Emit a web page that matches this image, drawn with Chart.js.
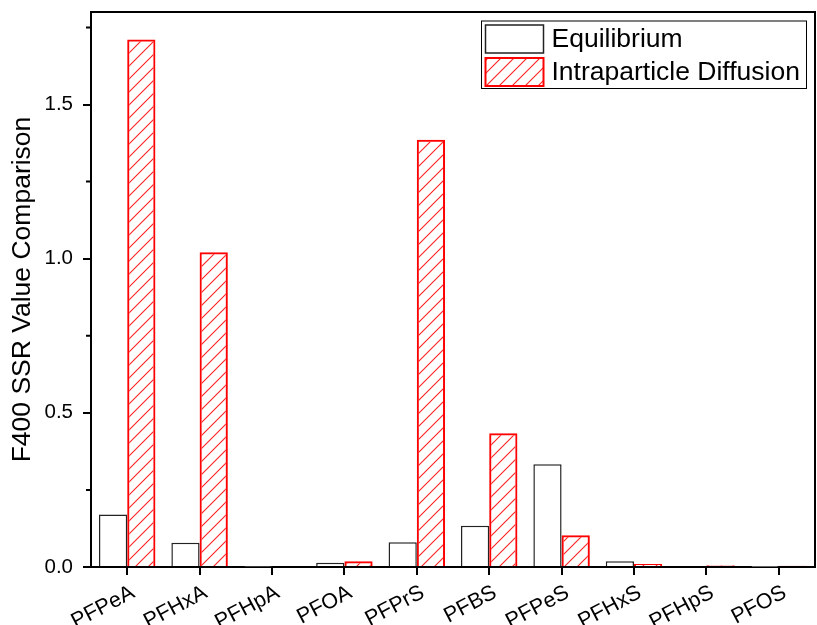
<!DOCTYPE html>
<html>
<head>
<meta charset="utf-8">
<script src="https://cdn.jsdelivr.net/npm/chart.js@4/dist/chart.umd.min.js"></script>
<style>
  html, body { margin: 0; padding: 0; background: #ffffff; }
  #wrap { width: 817px; height: 625px; }
</style>
</head>
<body>
<div id="wrap"><canvas id="c" width="817" height="625"></canvas></div>
<script>
// SSR values per compound for the two kinetic models
const categories = ['PFPeA', 'PFHxA', 'PFHpA', 'PFOA', 'PFPrS', 'PFBS', 'PFPeS', 'PFHxS', 'PFHpS', 'PFOS'];
const equilibrium = [0.170, 0.079, 0.001, 0.014, 0.080, 0.134, 0.333, 0.019, 0.003, 0.0005];
const intraparticle = [1.711, 1.021, 0.003, 0.019, 1.386, 0.434, 0.103, 0.010, 0.006, 0.004];
const seriesNames = ['Equilibrium', 'Intraparticle Diffusion'];
const yMajorTicks = [0, 0.5, 1.0, 1.5];
const yMinorTicks = [0.25, 0.75, 1.25, 1.75];
const yTitle = 'F400 SSR Value Comparison';

const FONT = "'Liberation Sans', Arial, Helvetica, sans-serif";
Chart.defaults.font.family = FONT;
Chart.defaults.color = '#000';

const canvas = document.getElementById('c');
const ctx = canvas.getContext('2d');

// red diagonal hatch fill
function makeHatch(color) {
  const s = 13;
  const t = document.createElement('canvas');
  t.width = s; t.height = s;
  const g = t.getContext('2d');
  g.strokeStyle = color;
  g.lineWidth = 1.1;
  g.beginPath();
  g.moveTo(0, s); g.lineTo(s, 0);
  g.moveTo(-s / 2, s / 2); g.lineTo(s / 2, -s / 2);
  g.moveTo(s / 2, s * 1.5); g.lineTo(s * 1.5, s / 2);
  g.stroke();
  return ctx.createPattern(t, 'repeat');
}
const hatchRed = makeHatch('#ff2020');

// closes the frame and adds minor ticks on the value axis
const framePlugin = {
  id: 'frame',
  afterDraw(chart) {
    const { ctx, chartArea: a, scales } = chart;
    ctx.save();
    ctx.strokeStyle = '#000';
    ctx.lineWidth = 2;
    ctx.beginPath();
    ctx.moveTo(a.left - 1, a.top);
    ctx.lineTo(a.right, a.top);
    ctx.lineTo(a.right, a.bottom + 1);
    ctx.stroke();
    ctx.beginPath();
    yMinorTicks.forEach(v => {
      const y = scales.y.getPixelForValue(v);
      ctx.moveTo(a.left - 5, y);
      ctx.lineTo(a.left, y);
    });
    ctx.stroke();
    ctx.restore();
  }
};

// boxed legend inside the top-right corner of the plot
const legendPlugin = {
  id: 'boxLegend',
  afterDraw(chart) {
    const { ctx, chartArea: a } = chart;
    const right = a.right - 8.5;
    const left = right - 325;
    const top = a.top + 9;
    const bottom = top + 67.5;
    ctx.save();
    ctx.fillStyle = '#fff';
    ctx.fillRect(left, top, right - left, bottom - top);
    ctx.strokeStyle = '#000';
    ctx.lineWidth = 1;
    ctx.strokeRect(left, top, right - left, bottom - top);
    chart.data.datasets.forEach((ds, i) => {
      const sx = left + 4;
      const sy = top + 4 + i * 33;
      const sw = 58, sh = 28;
      ctx.fillStyle = '#fff';
      ctx.fillRect(sx, sy, sw, sh);
      ctx.fillStyle = ds.backgroundColor;
      ctx.fillRect(sx, sy, sw, sh);
      ctx.strokeStyle = ds.borderColor;
      ctx.lineWidth = ds.borderWidth;
      ctx.strokeRect(sx, sy, sw, sh);
      ctx.fillStyle = '#000';
      ctx.font = '26.5px ' + FONT;
      ctx.textAlign = 'left';
      ctx.textBaseline = 'middle';
      ctx.fillText(ds.label, sx + sw + 8, sy + sh / 2 + 1);
    });
    ctx.restore();
  }
};

new Chart(ctx, {
  type: 'bar',
  data: {
    labels: categories,
    datasets: [
      {
        label: seriesNames[0],
        data: equilibrium,
        backgroundColor: '#ffffff',
        borderColor: '#222222',
        borderWidth: 1.5,
        borderSkipped: 'start'
      },
      {
        label: seriesNames[1],
        data: intraparticle,
        backgroundColor: hatchRed,
        borderColor: '#ff0000',
        borderWidth: 2,
        borderSkipped: 'start'
      }
    ]
  },
  options: {
    responsive: false,
    animation: false,
    events: [],
    layout: { padding: { left: 0, top: 12, right: 2, bottom: 0 } },
    datasets: { bar: { categoryPercentage: 0.78, barPercentage: 1.0 } },
    plugins: {
      legend: { display: false },
      tooltip: { enabled: false }
    },
    scales: {
      x: {
        grid: {
          display: true,
          drawOnChartArea: false,
          offset: false,
          drawTicks: true,
          tickLength: 8,
          color: '#000',
          lineWidth: 2
        },
        border: { display: true, color: '#000', width: 2 },
        ticks: {
          color: '#000',
          font: { size: 21.5 },
          minRotation: 28,
          maxRotation: 28,
          padding: 5,
          labelOffset: 6,
          autoSkip: false
        },
        afterFit(s) { s.height = 58; s.paddingLeft = 0; s.paddingRight = 0; }
      },
      y: {
        min: 0,
        max: 1.8,
        afterBuildTicks(s) { s.ticks = yMajorTicks.map(v => ({ value: v })); },
        grid: {
          display: true,
          drawOnChartArea: false,
          drawTicks: true,
          tickLength: 8,
          color: '#000',
          lineWidth: 2
        },
        border: { display: true, color: '#000', width: 2 },
        ticks: {
          color: '#000',
          font: { size: 20.5 },
          padding: 10,
          callback: v => Number(v).toFixed(1)
        },
        title: {
          display: true,
          text: yTitle,
          color: '#000',
          font: { size: 26.5 },
          padding: { top: 7, bottom: 0 }
        },
        afterFit(s) { s.width = 91; s.paddingTop = 0; s.paddingBottom = 0; }
      }
    }
  },
  plugins: [framePlugin, legendPlugin]
});
</script>
</body>
</html>
